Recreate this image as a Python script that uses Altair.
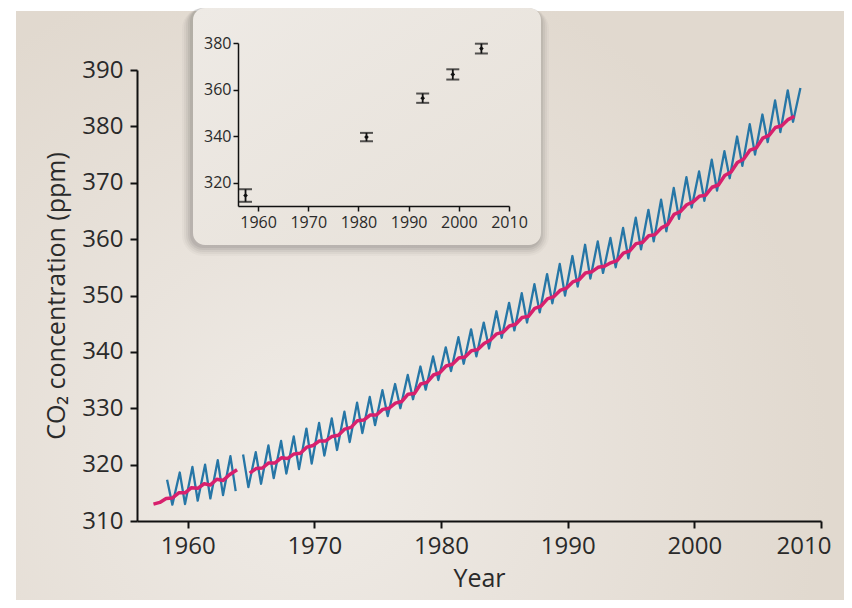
import altair as alt
import pandas as pd

# ---------------- data ----------------
# Blue record: seasonal maximum (May) and minimum (Oct) per year
blue_years = list(range(1958, 2009))
blue_peaks = [317.3, 318.6, 319.6, 320.0, 320.8, 321.5, 321.8, 322.2, 323.4, 324.2,
              325.0, 326.4, 327.4, 328.2, 329.4, 331.0, 332.0, 333.2, 334.3, 335.9,
              337.4, 339.2, 340.8, 342.6, 344.0, 345.2, 347.2, 348.7, 350.4, 352.0,
              353.8, 355.6, 357.0, 359.0, 359.6, 360.2, 362.0, 363.8, 365.2, 367.0,
              369.1, 371.0, 372.0, 374.1, 375.6, 378.2, 380.4, 382.1, 384.6, 386.4,
              386.8]
blue_troughs = [312.9, 313.0, 313.6, 314.0, 314.6, 315.3, 316.0, 316.6, 317.6, 318.4,
                319.2, 320.2, 321.6, 322.6, 324.0, 325.6, 327.0, 328.6, 330.0, 331.6,
                333.3, 335.0, 336.6, 337.9, 339.2, 340.6, 342.5, 343.8, 345.2, 347.0,
                348.6, 350.0, 351.6, 353.0, 354.0, 355.0, 356.6, 358.2, 359.6, 361.4,
                363.6, 365.6, 366.8, 368.6, 370.8, 373.0, 375.0, 377.2, 379.0, 380.8]
peak_month = 5
trough_month = 10
gap_year = 1964.2   # record interrupted early 1964

# Magenta record (smoother)
mag_years = [1957.3, 1957.8, 1958.3, 1958.8, 1959.3, 1959.8, 1960.3, 1960.8, 1961.3, 1961.8,
             1962.3, 1962.8, 1963.3, 1963.9,
             1964.9, 1965.4, 1965.9, 1966.4, 1966.9, 1967.4, 1967.9, 1968.4, 1968.9,
             1969.4, 1969.9, 1970.4, 1970.9, 1971.4, 1971.9, 1972.4, 1972.9, 1973.4, 1973.9,
             1974.4, 1974.9, 1975.4, 1975.9, 1976.4, 1976.9, 1977.4, 1977.9, 1978.4, 1978.9,
             1979.4, 1979.9, 1980.4, 1980.9, 1981.4, 1981.9, 1982.4, 1982.9, 1983.4, 1983.9,
             1984.4, 1984.9, 1985.4, 1985.9, 1986.4, 1986.9, 1987.4, 1987.9, 1988.4, 1988.9,
             1989.4, 1989.9, 1990.4, 1990.9, 1991.4, 1991.9, 1992.4, 1992.9, 1993.4, 1993.9,
             1994.4, 1994.9, 1995.4, 1995.9, 1996.4, 1996.9, 1997.4, 1997.9, 1998.4, 1998.9,
             1999.4, 1999.9, 2000.4, 2000.9, 2001.4, 2001.9, 2002.4, 2002.9, 2003.4, 2003.9,
             2004.4, 2004.9, 2005.4, 2005.9, 2006.4, 2006.9, 2007.4, 2007.9]
mag_ppm = [313.0, 313.3, 314.0, 314.1, 315.0, 315.0, 315.9, 315.8, 316.6, 316.4,
           317.4, 317.2, 318.2, 319.1,
           318.5, 319.3, 319.4, 320.3, 320.3, 321.2, 321.1, 321.9, 322.0,
           323.1, 323.4, 324.2, 324.2, 325.0, 325.2, 326.3, 326.6, 327.8, 327.9,
           328.8, 328.8, 329.8, 330.0, 330.9, 331.2, 332.5, 332.6, 334.3, 334.6,
           335.9, 336.3, 337.5, 337.8, 338.9, 339.1, 340.2, 340.4, 341.5, 342.1,
           343.2, 343.5, 344.6, 344.9, 346.1, 346.3, 347.7, 348.1, 349.4, 349.8,
           350.9, 351.3, 352.4, 352.8, 354.0, 354.2, 355.0, 355.2, 355.8, 356.2,
           357.5, 357.9, 359.2, 359.4, 360.6, 360.8, 362.0, 362.6, 364.4, 364.9,
           366.1, 366.6, 367.6, 367.8, 369.2, 369.6, 371.3, 371.9, 373.6, 374.2,
           375.8, 376.2, 377.9, 378.4, 379.8, 380.1, 381.2, 381.8]

# Inset: means with error bars
inset_years = [1957.5, 1981.6, 1992.8, 1998.8, 2004.5]
inset_ppm = [314.5, 339.6, 356.3, 366.5, 377.6]
inset_err = [2.7, 1.8, 2.0, 2.2, 2.1]

main_x_ticks = [1960, 1970, 1980, 1990, 2000, 2010]
main_y_ticks = [310, 320, 330, 340, 350, 360, 370, 380, 390]
inset_y_ticks = [320, 340, 360, 380]

# ---------------- tables ----------------
rows = []
for i, yr in enumerate(blue_years):
    rows.append({"t": yr + (peak_month - 0.5) / 12, "ppm": blue_peaks[i]})
    if i < len(blue_troughs):
        rows.append({"t": yr + (trough_month - 0.5) / 12, "ppm": blue_troughs[i]})
blue_df = pd.DataFrame(rows)
blue_df["seg"] = (blue_df["t"] > gap_year).astype(int)

mag_df = pd.DataFrame({"t": mag_years, "ppm": mag_ppm})
mag_df["seg"] = (mag_df["t"] > 1964.4).astype(int)

inset_df = pd.DataFrame({"t": inset_years, "ppm": inset_ppm, "err": inset_err})
inset_df["lo"] = inset_df["ppm"] - inset_df["err"]
inset_df["hi"] = inset_df["ppm"] + inset_df["err"]

FONT = "Open Sans"
PLOT_W, PLOT_H = 684, 451
one = alt.Data(values=[{}])

# ---------------- backdrop (decoration) ----------------
backdrop = alt.Chart(one).mark_rect(
    color=alt.RadialGradient(
        gradient="radial", x1=0.36, y1=0.68, r1=0.0, x2=0.36, y2=0.68, r2=0.62,
        stops=[alt.GradientStop(color="#f0ece7", offset=0),
               alt.GradientStop(color="#e9e3dc", offset=0.45),
               alt.GradientStop(color="#e1d9cf", offset=1)])
).encode(x=alt.value(-121), x2=alt.value(707), y=alt.value(-59), y2=alt.value(545))

# ---------------- main chart ----------------
xs = alt.Scale(domain=[1956, 2010], nice=False, zero=False)
ys = alt.Scale(domain=[310, 390], nice=False, zero=False)
x_axis = alt.Axis(values=main_x_ticks, format="d", title="Year", grid=False, zindex=1,
                  labelFontSize=24, titleFontSize=25, labelPadding=6, titlePadding=8,
                  tickSize=7, labelFlush=True, labelFlushOffset=10)
y_axis = alt.Axis(values=main_y_ticks, format="d", title="CO₂ concentration (ppm)", grid=False,
                  zindex=1, labelFontSize=24, titleFontSize=25, labelPadding=7, titlePadding=12,
                  tickSize=7)

blue = alt.Chart(blue_df).mark_line(color="#2676a6", strokeWidth=2.3, strokeJoin="round").encode(
    x=alt.X("t:Q", scale=xs, axis=x_axis),
    y=alt.Y("ppm:Q", scale=ys, axis=y_axis),
    detail="seg:N",
)
magenta = alt.Chart(mag_df).mark_line(color="#d8206d", strokeWidth=3.5, strokeJoin="round").encode(
    x=alt.X("t:Q", scale=xs),
    y=alt.Y("ppm:Q", scale=ys),
    detail="seg:N",
)
main = alt.layer(blue, magenta)

# ---------------- inset ----------------
px0, px1, py0, py1 = 56, 404, -62, 175
shadows = []
for k, op in [(9, 0.025), (7, 0.035), (5, 0.045), (3, 0.055), (1, 0.06)]:
    shadows.append(alt.Chart(one).mark_rect(color="#000000", opacity=op, cornerRadius=12 + k).encode(
        x=alt.value(px0 - k - 2), x2=alt.value(px1 + k - 1),
        y=alt.value(py0), y2=alt.value(py1 + k + 2)))
panel = alt.Chart(one).mark_rect(
    color=alt.LinearGradient(
        gradient="linear", x1=0, y1=0, x2=1, y2=1,
        stops=[alt.GradientStop(color="#eeeae5", offset=0),
               alt.GradientStop(color="#e7e1d9", offset=1)]),
    cornerRadius=12).encode(
    x=alt.value(px0), x2=alt.value(px1), y=alt.value(py0), y2=alt.value(py1))

ix = alt.Scale(domain=[1956, 2010], nice=False, zero=False, range=[101, 372])
iy = alt.Scale(domain=[310, 380], nice=False, zero=False, range=[136, -27])
ix_axis = alt.Axis(values=main_x_ticks, format="d", title=None, grid=False, orient="bottom",
                   offset=-315, labelFontSize=16, tickSize=5, labelPadding=3, zindex=2,
                   domainWidth=1.5, tickWidth=1.5, labelFlush=False)
iy_axis = alt.Axis(values=inset_y_ticks, format="d", title=None, grid=False, orient="left",
                   offset=-101, labelFontSize=16, tickSize=5, labelPadding=2, zindex=2,
                   domainWidth=1.5, tickWidth=1.5)

ibars = alt.Chart(inset_df).mark_rule(color="#111111", strokeWidth=1.8).encode(
    x=alt.X("t:Q", scale=ix, axis=ix_axis),
    y=alt.Y("lo:Q", scale=iy, axis=iy_axis),
    y2="hi:Q",
)
icap_lo = alt.Chart(inset_df).mark_tick(color="#111111", orient="horizontal", size=13, thickness=2).encode(
    x=alt.X("t:Q", scale=ix), y=alt.Y("lo:Q", scale=iy))
icap_hi = alt.Chart(inset_df).mark_tick(color="#111111", orient="horizontal", size=13, thickness=2).encode(
    x=alt.X("t:Q", scale=ix), y=alt.Y("hi:Q", scale=iy))
ipts = alt.Chart(inset_df).mark_point(shape="diamond", filled=True, color="#111111", size=22, opacity=1).encode(
    x=alt.X("t:Q", scale=ix), y=alt.Y("ppm:Q", scale=iy))
inset = alt.layer(ibars, icap_lo, icap_hi, ipts)

chart = alt.layer(backdrop, *shadows, panel, main, inset).resolve_scale(
    x="independent", y="independent"
).resolve_axis(x="independent", y="independent").properties(
    width=PLOT_W, height=PLOT_H,
    autosize=alt.AutoSizeParams(type="none"),
    padding={"left": 129, "top": 62, "right": 23, "bottom": 79},
    background="#ffffff",
).configure_view(stroke=None).configure_axis(
    labelFont=FONT, titleFont=FONT, labelColor="#2a2a2a", titleColor="#2a2a2a",
    titleFontWeight="normal", domainColor="#111111", tickColor="#111111",
    domainWidth=2, tickWidth=2,
)

chart.save("out.html", embed_options={"renderer": "svg", "actions": False})
